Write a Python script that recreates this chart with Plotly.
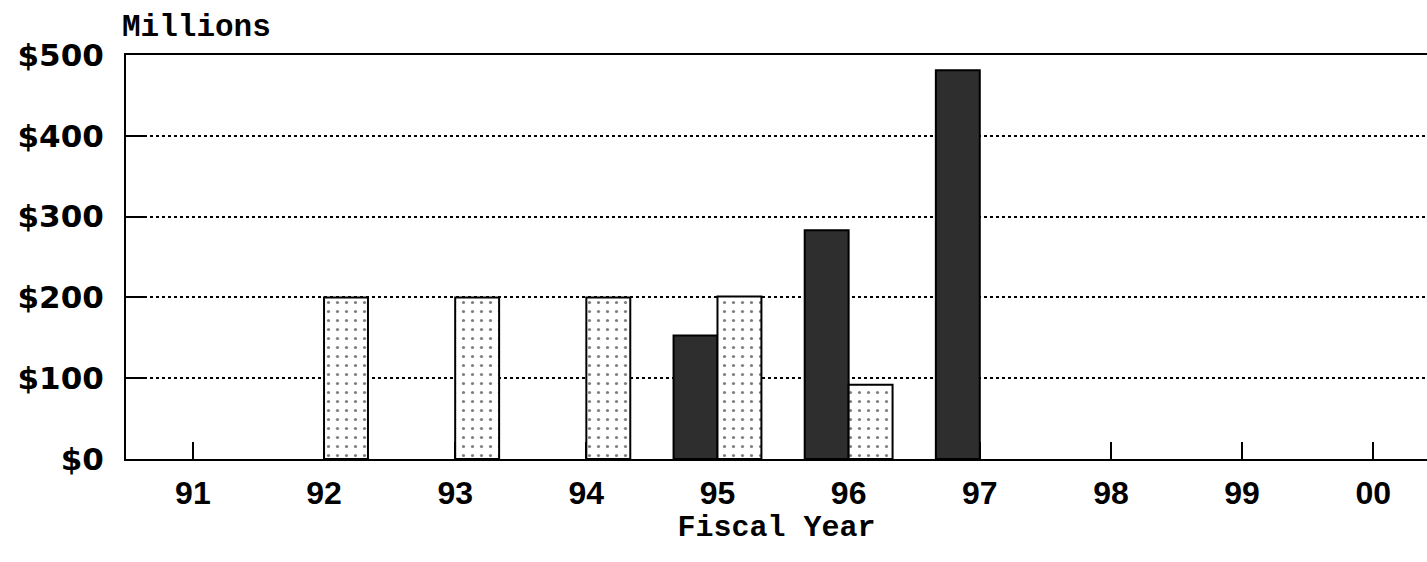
import plotly.graph_objects as go

years = ["91", "92", "93", "94", "95", "96", "97", "98", "99", "00"]
series_dark = [None, None, None, None, 153, 283, 481, None, None, None]
series_dotted = [None, 200, 200, 200, 201, 92, None, None, None, None]
y_ticks = [0, 100, 200, 300, 400, 500]
y_tick_labels = ["$0", "$100", "$200", "$300", "$400", "$500"]

fig = go.Figure()
fig.add_trace(go.Bar(
    x=years, y=series_dark, name="dark",
    marker=dict(color="#2e2e2e", line=dict(color="black", width=2)),
))
fig.add_trace(go.Bar(
    x=years, y=series_dotted, name="dotted",
    marker=dict(color="white", line=dict(color="black", width=2),
                pattern=dict(shape=".", size=9, solidity=0.1,
                             fgcolor="black", bgcolor="white")),
))

fig.update_layout(
    width=1427, height=562,
    margin=dict(l=126, r=0, t=55, b=103),
    paper_bgcolor="white", plot_bgcolor="white",
    barmode="group", bargap=0.33, bargroupgap=0,
    showlegend=False,
    xaxis=dict(
        type="category", categoryorder="array", categoryarray=years,
        range=[-0.51, 9.41],
        showline=True, linecolor="black", linewidth=2, mirror=True,
        ticks="inside", ticklen=17, tickwidth=1.5, tickcolor="black",
        tickfont=dict(family="Liberation Sans", size=32, color="black", weight="bold"),
        ticklabelstandoff=5,
        showgrid=False, zeroline=False,
        layer="below traces",
        title=dict(text="Fiscal Year", standoff=0,
                   font=dict(family="Liberation Mono", size=30, color="black", weight="bold")),
    ),
    yaxis=dict(
        range=[0, 500],
        tickvals=y_ticks, ticktext=y_tick_labels,
        showline=True, linecolor="black", linewidth=2,
        ticks="inside", ticklen=19, tickwidth=1.5, tickcolor="black",
        tickfont=dict(family="DejaVu Sans", size=31, color="black", weight="bold"),
        ticklabelstandoff=14,
        showgrid=True, gridcolor="black", gridwidth=1.5, griddash="dot",
        zeroline=False,
    ),
    annotations=[dict(
        text="Millions", xref="paper", yref="paper", x=0, y=1,
        xanchor="left", yanchor="bottom", xshift=-6, yshift=8, showarrow=False,
        font=dict(family="Liberation Mono", size=31, color="black", weight="bold"),
    )],
)

fig.write_html("out.html", config={"displayModeBar": False},
               post_script="document.body.style.margin='0';")
